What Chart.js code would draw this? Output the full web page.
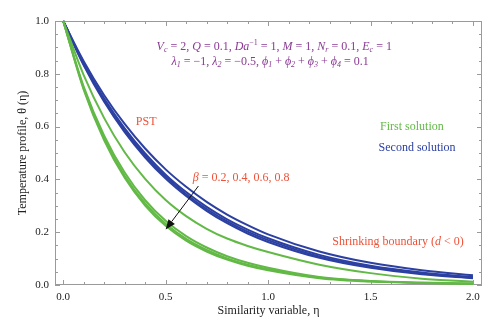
<!DOCTYPE html>
<html>
<head>
<meta charset="utf-8">
<script src="https://cdn.jsdelivr.net/npm/chart.js@4.4.1/dist/chart.umd.min.js"></script>
<style>
  html, body { margin: 0; padding: 0; background: #fff; }
  #wrap { width: 500px; height: 335px; }
</style>
</head>
<body>
<div id="wrap"><canvas id="chart"></canvas></div>
<script>
// similarity variable (eta) sample points
const eta = [0, 0.1, 0.2, 0.3, 0.4, 0.5, 0.6, 0.7, 0.8, 0.9, 1.0, 1.25, 1.5, 1.75, 2.0];

// first solution (green), beta = 0.2, 0.4, 0.6, 0.8
const firstB02 = [1, 0.795, 0.632, 0.503, 0.402, 0.322, 0.261, 0.213, 0.176, 0.148, 0.125, 0.077, 0.045, 0.024, 0.012];
const firstB04 = [1, 0.752, 0.566, 0.426, 0.321, 0.243, 0.185, 0.142, 0.109, 0.084, 0.065, 0.030, 0.015, 0.009, 0.006];
const firstB06 = [1, 0.745, 0.555, 0.414, 0.309, 0.232, 0.175, 0.133, 0.101, 0.077, 0.060, 0.028, 0.014, 0.008, 0.005];
const firstB08 = [1, 0.740, 0.548, 0.406, 0.301, 0.224, 0.168, 0.127, 0.096, 0.073, 0.056, 0.026, 0.013, 0.008, 0.005];

// second solution (blue)
const secondB02 = [1, 0.848, 0.719, 0.610, 0.517, 0.438, 0.372, 0.315, 0.267, 0.227, 0.192, 0.127, 0.084, 0.056, 0.037];
const secondB04 = [1, 0.840, 0.706, 0.593, 0.498, 0.418, 0.352, 0.296, 0.249, 0.210, 0.177, 0.114, 0.073, 0.047, 0.030];
const secondB06 = [1, 0.836, 0.700, 0.586, 0.490, 0.410, 0.344, 0.288, 0.241, 0.202, 0.170, 0.108, 0.069, 0.044, 0.028];
const secondB08 = [1, 0.832, 0.694, 0.579, 0.483, 0.403, 0.337, 0.281, 0.234, 0.195, 0.163, 0.103, 0.065, 0.041, 0.026];

// tick labels
const xTicks = [0, 0.5, 1.0, 1.5, 2.0];
const yTicks = [0, 0.2, 0.4, 0.6, 0.8, 1.0];

const green = "#62b946";
const blue = "#2c40a2";
const red = "#ee5238";
const purple = "#8b3a94";
const serif = '"Liberation Serif", "DejaVu Serif", serif';

const toPoints = (ys) => eta.map((e, i) => ({ x: e, y: ys[i] }));

const curve = (label, ys, color) => ({
    label,
    data: toPoints(ys),
    borderColor: color,
    backgroundColor: color,
    borderWidth: 2,
    pointRadius: 0,
    cubicInterpolationMode: "monotone",
    fill: false,
    clip: 4,
});

// tiny rich-text helper: *italic*, _{sub}, ^{sup}
const parseRich = (str) => {
    const segs = [];
    let italic = false, mode = "n", buf = "";
    const push = () => {
        if (buf) segs.push({ t: buf, it: italic, m: mode });
        buf = "";
    };
    for (let i = 0; i < str.length; i++) {
        const c = str[i];
        if (c === "*") { push(); italic = !italic; continue; }
        if ((c === "_" || c === "^") && str[i + 1] === "{") {
            push(); mode = c === "_" ? "sub" : "sup"; i++; continue;
        }
        if (c === "}" && mode !== "n") { push(); mode = "n"; continue; }
        buf += c;
    }
    push();
    return segs;
};

const drawRich = (ctx, str, cx, cy, size, color) => {
    const segs = parseRich(str);
    const fontOf = (s) =>
        `${s.it ? "italic " : ""}${s.m === "n" ? size : Math.round(size * 0.7)}px ${serif}`;
    let total = 0;
    segs.forEach((s) => {
        ctx.font = fontOf(s);
        s.w = ctx.measureText(s.t).width;
        total += s.w;
    });
    let x = cx - total / 2;
    ctx.fillStyle = color;
    ctx.textBaseline = "middle";
    ctx.textAlign = "left";
    segs.forEach((s) => {
        ctx.font = fontOf(s);
        const dy = s.m === "sub" ? size * 0.28 : s.m === "sup" ? -size * 0.32 : 0;
        ctx.fillText(s.t, x, cy + dy);
        x += s.w;
    });
};

// annotation texts, placed in data coordinates
const notes = [
    { text: "*V*_{*c*} = 2, *Q* = 0.1, *Da*^{−1} = 1, *M* = 1, *N*_{*r*} = 0.1, *E*_{*c*} = 1", x: 1.03, y: 0.902, color: purple },
    { text: "*λ*_{*1*} = −1, *λ*_{*2*} = −0.5, *ϕ*_{*1*} + *ϕ*_{*2*} + *ϕ*_{*3*} + *ϕ*_{*4*} = 0.1", x: 1.01, y: 0.845, color: purple },
    { text: "PST", x: 0.405, y: 0.617, color: red },
    { text: "First solution", x: 1.702, y: 0.598, color: green },
    { text: "Second solution", x: 1.727, y: 0.519, color: blue },
    { text: "*β* = 0.2, 0.4, 0.6, 0.8", x: 0.868, y: 0.405, color: red },
    { text: "Shrinking boundary (*d* < 0)", x: 1.634, y: 0.163, color: red },
];
const arrowFrom = { x: 0.66, y: 0.375 };
const arrowTo = { x: 0.5, y: 0.21 };

const frameTicks = {
    id: "frameTicks",
    beforeDatasetsDraw(chart) {
        const { ctx, chartArea: a, scales: { x, y } } = chart;
        ctx.save();
        ctx.strokeStyle = "#9a9a9a";
        ctx.lineWidth = 1;
        ctx.strokeRect(a.left + 0.5, a.top + 0.5, a.right - a.left - 1, a.bottom - a.top - 1);
        ctx.beginPath();
        for (let i = 0; i <= 20; i++) {
            const px = Math.round(x.getPixelForValue(i / 10)) + 0.5;
            const len = i % 5 === 0 ? 5 : 3;
            ctx.moveTo(px, a.bottom); ctx.lineTo(px, a.bottom - len);
            ctx.moveTo(px, a.top); ctx.lineTo(px, a.top + len);
        }
        for (let i = 0; i <= 20; i++) {
            const py = Math.round(y.getPixelForValue(i / 20)) + 0.5;
            const len = i % 4 === 0 ? 5 : 3;
            ctx.moveTo(a.left, py); ctx.lineTo(a.left + len, py);
            ctx.moveTo(a.right, py); ctx.lineTo(a.right - len, py);
        }
        ctx.stroke();
        ctx.restore();
    },
    afterDatasetsDraw(chart) {
        const { ctx, scales: { x, y } } = chart;
        ctx.save();
        notes.forEach((n) =>
            drawRich(ctx, n.text, x.getPixelForValue(n.x), y.getPixelForValue(n.y), 12, n.color)
        );
        // arrow
        const x0 = x.getPixelForValue(arrowFrom.x), y0 = y.getPixelForValue(arrowFrom.y);
        const x1 = x.getPixelForValue(arrowTo.x), y1 = y.getPixelForValue(arrowTo.y);
        const ang = Math.atan2(y1 - y0, x1 - x0);
        const head = 10, half = 4;
        const bx = x1 - head * Math.cos(ang), by = y1 - head * Math.sin(ang);
        ctx.strokeStyle = "#111";
        ctx.fillStyle = "#111";
        ctx.lineWidth = 1;
        ctx.beginPath();
        ctx.moveTo(x0, y0);
        ctx.lineTo(bx, by);
        ctx.stroke();
        ctx.beginPath();
        ctx.moveTo(x1, y1);
        ctx.lineTo(bx + half * Math.sin(ang), by - half * Math.cos(ang));
        ctx.lineTo(bx - half * Math.sin(ang), by + half * Math.cos(ang));
        ctx.closePath();
        ctx.fill();
        ctx.restore();
    },
};

new Chart(document.getElementById("chart"), {
    type: "line",
    data: {
        datasets: [
            curve("First β=0.2", firstB02, green),
            curve("First β=0.4", firstB04, green),
            curve("First β=0.6", firstB06, green),
            curve("First β=0.8", firstB08, green),
            curve("Second β=0.2", secondB02, blue),
            curve("Second β=0.4", secondB04, blue),
            curve("Second β=0.6", secondB06, blue),
            curve("Second β=0.8", secondB08, blue),
        ],
    },
    options: {
        responsive: true,
        maintainAspectRatio: false,
        animation: false,
        layout: { padding: { top: 21, right: 18, left: 0, bottom: 0 } },
        plugins: {
            legend: { display: false },
            tooltip: { enabled: false },
        },
        scales: {
            x: {
                type: "linear",
                min: -0.04,
                max: 2.044,
                afterBuildTicks: (scale) => {
                    scale.ticks = xTicks.map((v) => ({ value: v }));
                },
                afterFit: (scale) => { scale.height = 50; },
                grid: { display: false, drawTicks: false },
                border: { display: false },
                ticks: {
                    padding: 6,
                    maxRotation: 0,
                    color: "#222",
                    font: { family: serif, size: 11 },
                    callback: (v) => Number(v).toFixed(1),
                },
                title: {
                    display: true,
                    text: "Similarity variable, η",
                    color: "#222",
                    font: { family: serif, size: 12 },
                    padding: { top: 0, bottom: 17 },
                },
            },
            y: {
                min: 0,
                max: 1,
                afterBuildTicks: (scale) => {
                    scale.ticks = yTicks.map((v) => ({ value: v }));
                },
                afterFit: (scale) => { scale.width = 55; },
                grid: { display: false, drawTicks: false },
                border: { display: false },
                ticks: {
                    padding: 6,
                    color: "#222",
                    font: { family: serif, size: 11 },
                    callback: (v) => Number(v).toFixed(1),
                },
                title: {
                    display: true,
                    text: "Temperature profile, θ (η)",
                    color: "#222",
                    font: { family: serif, size: 12 },
                    padding: { top: 16, bottom: 0 },
                },
            },
        },
    },
    plugins: [frameTicks],
});
</script>
</body>
</html>
